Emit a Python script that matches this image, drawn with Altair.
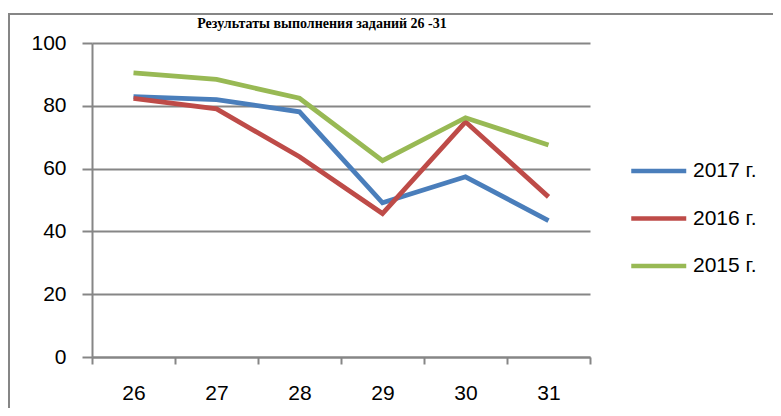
import altair as alt
import pandas as pd

tasks = ["26", "27", "28", "29", "30", "31"]
series = ["2017 г.", "2016 г.", "2015 г."]
v2017 = [82.9, 82.0, 78.1, 49.1, 57.4, 43.4]
v2016 = [82.4, 79.0, 63.8, 45.7, 74.9, 51.0]
v2015 = [90.5, 88.4, 82.4, 62.5, 76.2, 67.5]
colors = ["#4A7EBB", "#BE4B48", "#98B954"]
title_text = "Результаты выполнения заданий 26 -31"
y_ticks = [0, 20, 40, 60, 80, 100]

rows = []
for s, vals in zip(series, [v2017, v2016, v2015]):
    for t, v in zip(tasks, vals):
        rows.append({"task": t, "year": s, "value": v})
df = pd.DataFrame(rows)

GRAY = "#868686"
FONT = "Liberation Sans"

lines = alt.Chart(df).mark_line(strokeWidth=4.8, strokeJoin="miter").encode(
    x=alt.X(
        "task:O",
        sort=tasks,
        scale=alt.Scale(type="band", paddingInner=0, paddingOuter=0),
        axis=alt.Axis(
            title=None, labelAngle=0, tickBand="extent", tickSize=7,
            labelPadding=18, grid=False,
        ),
    ),
    y=alt.Y(
        "value:Q",
        scale=alt.Scale(domain=[0, 100], nice=False),
        axis=alt.Axis(
            title=None, values=y_ticks, tickSize=10, labelPadding=16, grid=True,
        ),
    ),
    color=alt.Color(
        "year:N",
        sort=series,
        scale=alt.Scale(domain=series, range=colors),
        legend=alt.Legend(
            title=None,
            orient="none",
            legendX=537,
            legendY=112,
            symbolType="M-1,0H3",
            symbolSize=756,
            symbolStrokeWidth=4.5,
            labelOffset=32,
            rowPadding=21.5,
            labelFontSize=21,
            labelFont=FONT,
            labelColor="#000000",
        ),
    ),
    order=alt.Order("year:N"),
)

one = alt.Data(values=[{}])
frame_top = alt.Chart(one).mark_rule(color=GRAY, strokeWidth=2).encode(
    x=alt.value(-84), x2=alt.value(681), y=alt.value(-29)
)
frame_left = alt.Chart(one).mark_rule(color=GRAY, strokeWidth=2).encode(
    x=alt.value(-83), y=alt.value(-29), y2=alt.value(365)
)
title = alt.Chart(one).mark_text(
    font="Liberation Serif", fontSize=14, fontWeight="bold", color="#000000",
    align="center", baseline="alphabetic",
).encode(x=alt.value(230), y=alt.value(-15), text=alt.value(title_text))

chart = alt.layer(frame_top, frame_left, title, lines).properties(
    width=498,
    height=314,
    autosize=alt.AutoSizeParams(type="none"),
    padding={"left": 84, "top": 35, "right": 183, "bottom": 51},
).configure_view(stroke=None).configure_axis(
    domainColor=GRAY, domainWidth=2, tickColor=GRAY, tickWidth=2,
    gridColor=GRAY, gridWidth=2, labelFont=FONT, labelFontSize=21,
    labelColor="#000000",
)

chart.save("out.html", embed_options={"renderer": "svg", "actions": False})
